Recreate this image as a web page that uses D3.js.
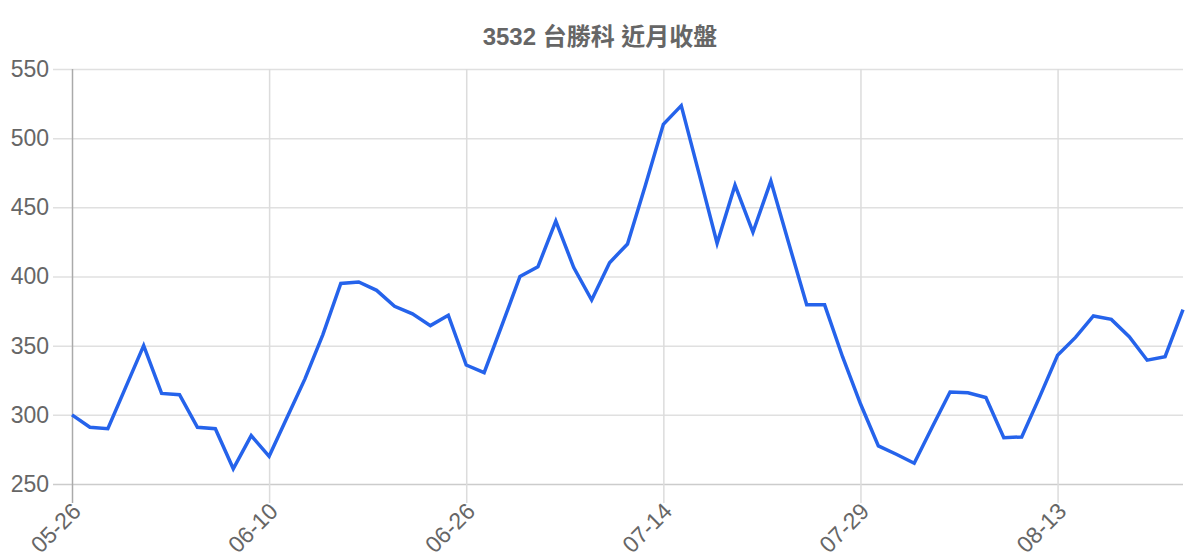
<!DOCTYPE html>
<html lang="zh-Hant">

<head>
    <meta charset="utf-8" />
    <title>3532 台勝科 近月收盤</title>
    <script type="text/javascript" src="https://cdn.jsdelivr.net/npm/d3@7"></script>
    <style type="text/css">
        body {
            margin: 0;
            background: #fff;
        }
        text {
            font-family: "Liberation Sans", Arial, "Noto Sans CJK TC", sans-serif;
        }
    </style>
</head>

<body>
    <script type="text/javascript">
        // trading days (MM-DD)
        var dates = [
            "05-26", "05-29", "05-30", "05-31", "06-01", "06-02", "06-05", "06-06", "06-07", "06-08", "06-09",
            "06-10", "06-12", "06-13", "06-14", "06-15", "06-16", "06-19", "06-20", "06-21", "06-22", "06-23",
            "06-26", "06-27", "06-28", "06-29", "06-30", "07-03", "07-04", "07-05", "07-06", "07-07", "07-10",
            "07-14", "07-17", "07-18", "07-19", "07-20", "07-21", "07-24", "07-25", "07-26", "07-27", "07-28",
            "07-29", "07-31", "08-01", "08-02", "08-03", "08-04", "08-07", "08-08", "08-09", "08-10", "08-11",
            "08-13", "08-14", "08-15", "08-16", "08-17", "08-18", "08-21", "08-22"
        ];
        // closing prices
        var closes = [
            300, 291, 290, 320, 350, 315.5, 314.5, 291, 290, 261, 285,
            270, 298, 326, 358, 395, 396, 390, 378.5, 373, 364.5, 372,
            336, 330.5, 365, 400, 407, 440, 406.5, 383, 410, 423.5, 466,
            510, 523.5, 474, 424, 466, 432, 469, 424, 379.5, 379.5, 342,
            308, 277.5, 271.5, 265, 291, 316.5, 316, 312.5, 283.5, 284, 313,
            343, 356, 371.5, 369, 356.5, 339.5, 342, 376
        ];
        var yTicks = [250, 300, 350, 400, 450, 500, 550];
        var labelEvery = 11;
        var title = "3532 台勝科 近月收盤";

        var w = 1200;
        var h = 560;
        var padL = 72, padR = 1183, padT = 69, padB = 484;
        var tickLen = 19;

        var svg = d3.select("body")
            .append("svg")
            .attr("width", w)
            .attr("height", h);

        var xScale = d3.scalePoint()
            .domain(dates)
            .range([padL, padR]);

        var yScale = d3.scaleLinear()
            .domain([250, 550])
            .range([padB, padT]);

        // horizontal grid + y ticks
        var yAxis = d3.axisLeft(yScale)
            .tickValues(yTicks)
            .tickSize(-(padR - padL + tickLen))
            .tickPadding(4)
            .tickFormat(d3.format("d"));

        var gy = svg.append("g")
            .attr("transform", "translate(" + (padL - tickLen) + ",0)")
            .call(yAxis);
        gy.select(".domain").remove();
        gy.selectAll(".tick line")
            .attr("stroke", function(d) { return d === 250 ? "#cccccc" : "#e0e0e0"; })
            .attr("stroke-width", 1.5);
        gy.selectAll(".tick text")
            .attr("fill", "#666")
            .attr("font-size", "23px");

        // vertical grid + x labels
        var shown = dates.filter(function(d, i) { return i % labelEvery === 0; });
        var xAxis = d3.axisBottom(xScale)
            .tickValues(shown)
            .tickSize(-(padB - padT + tickLen))
            .tickPadding(0);

        var gx = svg.append("g")
            .attr("transform", "translate(0," + (padB + tickLen) + ")")
            .call(xAxis);
        gx.select(".domain").remove();
        gx.selectAll(".tick line")
            .attr("stroke", function(d, i) { return i === 0 ? "#aaa" : "#dcdcdc"; })
            .attr("stroke-width", 1.5);
        gx.selectAll(".tick text")
            .attr("fill", "#666")
            .attr("font-size", "23px")
            .attr("text-anchor", "end")
            .attr("dy", "0.35em")
            .attr("transform", "translate(4,4) rotate(-45)");

        // bring first vertical line (axis) forward
        gx.selectAll(".tick").filter(function(d, i) { return i === 0; }).raise();

        // price line
        var line = d3.line()
            .x(function(d, i) { return xScale(dates[i]); })
            .y(function(d) { return yScale(d); });

        svg.append("path")
            .datum(closes)
            .attr("d", line)
            .attr("fill", "none")
            .attr("stroke", "#2563eb")
            .attr("stroke-width", 3.5)
            .attr("stroke-linejoin", "miter");

        svg.append("text")
            .attr("x", w / 2)
            .attr("y", 45)
            .attr("text-anchor", "middle")
            .attr("font-size", "24px")
            .attr("font-weight", "bold")
            .attr("fill", "#666")
            .text(title);
    </script>
</body>

</html>
